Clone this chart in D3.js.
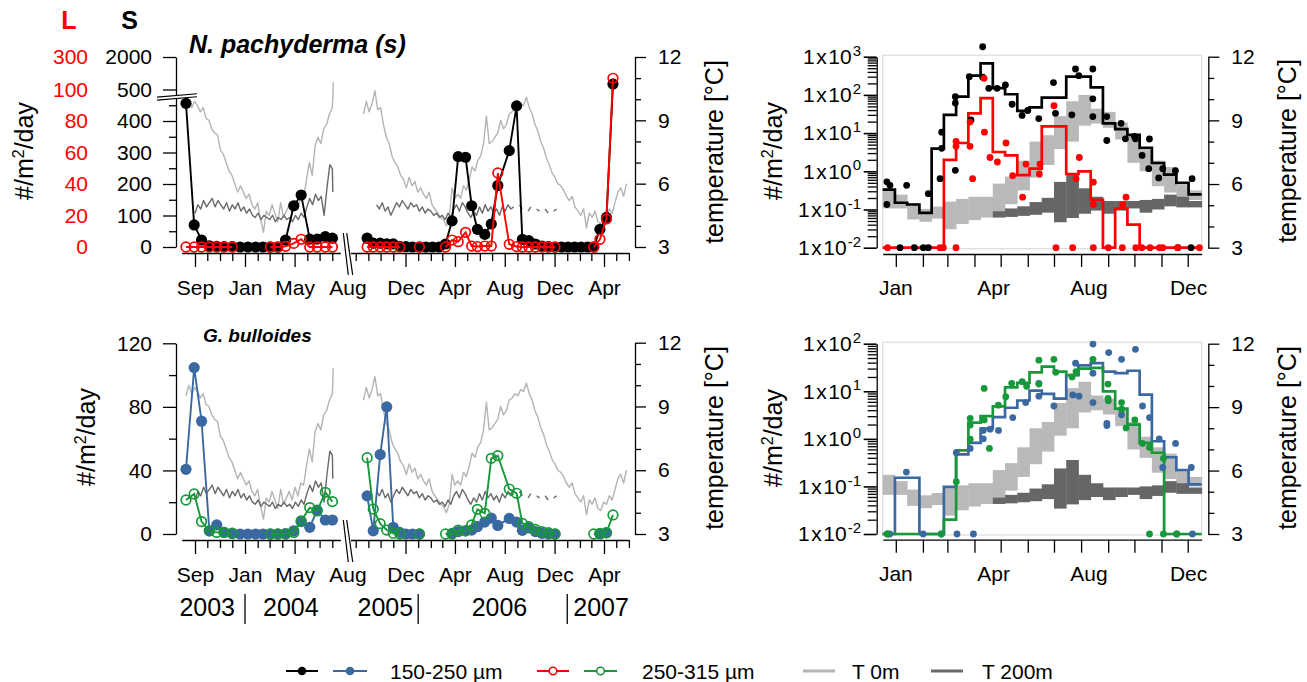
<!DOCTYPE html>
<html>
<head>
<meta charset="utf-8">
<script src="https://cdn.jsdelivr.net/npm/d3@7/dist/d3.min.js"></script>
<style>
html,body{margin:0;padding:0;background:#fff;}
svg text{font-family:"Liberation Sans",Arial,Helvetica,sans-serif;}
</style>
</head>
<body>
<svg id="chart" width="1307" height="682"></svg>
<script>
// ================= DATA =================
// sediment-trap sampling dates (two deployments, separated by an axis break)
const sampleDatesA = ["2003-08-10","2003-08-30","2003-09-17","2003-10-06","2003-10-24","2003-11-11","2003-12-01","2003-12-20","2004-01-08","2004-01-27","2004-02-14","2004-03-03","2004-03-21","2004-04-09","2004-04-29","2004-05-17","2004-06-07","2004-06-25","2004-07-15","2004-08-03"];
const sampleDatesB = ["2005-08-29","2005-09-13","2005-09-30","2005-10-16","2005-11-01","2005-11-17","2005-12-02","2005-12-18","2006-01-04","2006-01-20","2006-02-05","2006-02-21","2006-03-09","2006-03-25","2006-04-09","2006-04-27","2006-05-12","2006-05-26","2006-06-13","2006-06-29","2006-07-15","2006-08-12","2006-08-30","2006-09-13","2006-09-29","2006-10-15","2006-10-31","2006-11-16","2006-12-02","2006-12-18","2007-01-03","2007-01-19","2007-02-04","2007-02-20","2007-03-07","2007-03-22","2007-04-07","2007-04-23"];

// N. pachyderma (s): S = 150-250 µm, L = 250-315 µm  (#/m2/day)
const pachySmallA = [456,70,22,4,2,1,1,0,0,0,0,0,0,22,131,165,25,25,33,28];
const pachyLargeA = [0,0,0,0,0,0,0,null,null,null,null,0,0,0.4,2.3,4.9,0,0,0,0];
const pachySmallB = [28,12,12,10,10,2,1,0,0,0,0,0,9.5,83,287,285,131,56,40,73,195,306,448,24,20,9.5,3,1,0,0,0,0,0,0,0,56,94,754];
const pachyLargeB = [0,0,0,0,0,0,null,null,0,null,null,null,0,4.4,3.4,9.3,0.6,0.3,0.6,0.6,47,1.7,0.3,0,0,0,0,0,0,null,null,null,null,null,0,4.9,17.8,169];

// G. bulloides
const bullSmallA = [40.7,104.7,71,2,5.7,1,0.5,0,0,0,0,0,0,0.3,2,7.8,4.2,15,8.8,8.8];
const bullLargeA = [21.4,25.2,7.8,2,1,1,0.3,null,null,null,null,0,0,0,1,8.2,16.6,14.5,26.2,20.4];
const bullSmallB = [24,2,50,80,4.2,1,0,0,0,null,null,null,null,0.4,1.5,2,2.5,4.6,7.5,10,5.4,9.8,7.5,2.3,3.8,1.5,0.4,0,0,null,null,null,null,null,null,0,0.8,null];
const bullLargeB = [48,15.7,6.5,2.5,0.5,0,null,null,0,null,null,null,0,0,2.5,2,5.7,15.5,13,47.6,49.3,28.3,25.6,6.7,4.6,2.9,1.5,0.8,0,null,null,null,null,null,0,0.4,0.8,12];

// temperature records (weekly readings, °C)
const t0StartA = "2003-08-10";
const t0SeriesA = [9.5,10.0,9.6,9.9,9.7,9.4,9.6,9.1,9.0,8.6,8.4,8.3,7.6,7.4,7.0,6.6,6.4,6.0,5.6,5.9,5.6,5.3,5.5,5.0,4.8,5.1,4.3,3.7,4.7,4.5,5.0,4.6,4.2,5.1,4.4,4.7,5.0,4.6,5.2,4.8,5.4,5.3,6.2,7.0,6.4,7.8,8.2,7.9,8.6,8.8,9.3,9.6,10.0,10.8];
const t200StartA = "2003-09-01";
const t200SeriesA = [4.6,5.0,4.8,5.2,4.9,5.1,5.3,4.9,5.2,5.0,4.8,5.1,4.7,5.0,4.8,5.1,4.7,4.9,4.6,4.8,4.5,4.4,4.6,4.3,4.5,4.4,4.3,4.5,4.2,4.4,4.3,4.5,4.3,4.4,4.2,4.5,4.3,4.6,4.4,4.9,5.3,5.0,5.5,5.2,5.4,4.5,5.8,6.9,6.7,5.6];
const t0StartB = "2005-08-20";
const t0SeriesB = [9.3,9.9,9.4,9.8,10.4,9.5,9.6,8.8,8.2,7.9,7.3,7.0,6.8,6.4,6.2,5.8,6.3,5.9,6.1,5.6,5.8,5.5,5.3,5.6,5.0,4.8,4.6,4.4,4.3,4.0,4.4,5.8,5.3,5.5,5.3,5.9,5.7,6.2,6.8,6.6,7.1,7.3,7.9,9.2,7.9,8.0,8.2,8.4,9.0,8.6,8.8,9.3,9.4,9.6,9.5,9.8,9.7,10.1,9.6,9.3,8.8,8.5,8.0,7.7,7.2,6.9,6.5,6.3,6.0,5.9,5.7,5.4,5.2,5.4,4.9,4.7,4.5,4.8,3.9,4.6,4.4,4.7,4.2,4.1,4.5,4.4,4.8,4.6,5.1,5.6,5.8,5.4,6.0];
const t200StartB = "2005-09-21";
const t200SeriesB = [5.0,4.8,5.1,4.7,4.9,4.5,4.8,5.1,4.9,5.2,5.0,4.8,5.1,4.9,5.0,4.7,4.9,4.6,4.8,4.7,4.5,4.6,4.4,4.5,4.3,4.6,4.4,4.8,5.0,4.7,5.1,4.9,4.6,4.4,4.7,4.5,4.9,4.6,5.0,4.7,4.9,4.6,4.8,4.5,4.9,4.7,5.0,4.8,4.9,null,5.0,4.8,null,4.7,4.9,null,4.8,4.7,null,4.8,4.6,null,4.7,4.8,null,4.6];

// climatology in 14-day bins (day of year)
const binLength = 14;
const pachyStepSmall = [0.33,0.15,0.135,0.082,3.9,30,90,320,670,150,104,38,47,85,85,300,300,158,18,12.7,9,4.1,1.65,0.82,0.5,0.25,0.25];
const pachyStepLarge = [0,0,0,0,0,2.0,5.5,33,82,3.2,2.6,0.79,1.17,15,15,0.85,1.0,0.18,0,0.106,0.04,0,0,0,0,0,0];
const bullStepSmall = [0,0.152,0.152,0,0,0.098,0.47,0.82,1.65,2.85,4.5,6.4,10.3,8.8,7.0,21.7,35,39,26,24,27,8.5,0.89,0.41,0.22,0.11,0.11];
const bullStepLarge = [0,0,0,0,0,0.02,0.57,2.2,3.0,4.8,12.1,15,25,33,26,22,30,31,10,4.3,2.0,0.82,0.51,0,0,0,0];
const bandT0Low   = [4.85,4.85,4.33,4.22,4.37,3.87,4.12,4.3,4.42,4.7,5.05,5.7,6.3,6.9,7.65,8.0,8.75,8.85,8.65,8.1,7.0,6.6,5.9,5.6,5.35,5.25,5.25];
const bandT0High  = [5.8,5.5,5.1,4.83,4.94,5.17,5.3,5.4,5.4,6.02,6.35,7.1,8.0,8.3,9.2,9.9,10.2,9.55,9.4,8.9,8.3,7.6,7.1,6.8,5.95,5.7,5.7];
const bandT200Low = [null,null,null,null,null,null,null,null,null,4.42,4.45,4.5,4.55,4.65,4.2,4.4,4.6,4.75,4.6,4.75,4.85,4.65,4.8,4.95,4.9,4.9,4.9];
const bandT200High= [null,null,null,null,null,null,null,null,null,4.72,4.85,4.95,5.15,5.35,6.1,6.5,5.8,5.4,5.2,5.2,5.2,5.25,5.3,5.5,5.4,5.2,5.2];

// individual samples [day of year, #/m2/day]
const pachyDotsSmall = [[4.8,0.53],[8.3,0.43],[4.8,0.135],[27.4,0.43],[19.8,0],[36.2,0],[46.5,0],[52.2,0],[52.2,0.26],[65.6,0.64],[67.5,10.6],[67.5,4],[83.1,90],[83.1,61],[83.1,1.06],[99.1,300],[101,22],[114.4,1820],[114.4,290],[121.4,149],[130.9,149],[140.4,182],[148.1,57],[159.5,29],[166,39],[178.6,24],[195.4,210],[197.7,33],[216.4,30],[220.6,476],[224.4,319],[240.4,476],[240.4,79],[240.4,27],[256.4,27],[256.4,6.4],[272.8,18],[277.7,7.1],[288,8.2],[289.2,7.1],[296.8,2.6],[305.2,7],[304.4,1.17],[315.8,0.67],[320.4,1.17],[334.9,1.04],[337.6,0],[352.8,0],[354,0.64]];
const pachyDotsLarge = [[5.6,0],[65.6,0],[69.4,0],[83.9,0],[83.9,6.1],[83.9,4.5],[99.9,4.5],[99.9,19.4],[102.9,0.64],[116,272],[116.4,10.6],[122.8,2.3],[131.2,1.75],[141.1,5.5],[148.7,0.77],[160.1,0.21],[163.9,1.55],[179.2,0.85],[179.9,1.55],[196,52],[198.3,0],[217.4,0],[221.2,0.64],[225,2.3],[241,0.52],[241,0],[241,0.135],[258.2,0],[274.2,0],[274.6,0.135],[278.4,0.21],[289.6,0],[296.5,0],[305.9,0],[316.6,0],[320.4,0],[337.6,0],[362.4,0]];
const bullDotsSmall = [[5.3,0],[8,0],[27.1,0.2],[46.3,0],[67,0],[85,0],[103.8,0],[84.2,0.51],[100.1,0.63],[115,1.5],[115.1,1.0],[122.9,1.6],[132.5,1.5],[148.8,2.8],[163.6,5.8],[178.7,7.9],[178.7,14.7],[195.9,4.9],[217.5,8.4],[220.7,39],[224.6,7.9],[240.6,98],[240.6,24],[240.6,5.8],[258.6,65],[256.5,2.1],[256.5,1.9],[273.3,47],[273.3,3.2],[289.2,76],[297.3,4.9],[305.3,2.8],[316.4,1.0],[320.4,0.25],[335.1,0.8],[353.1,0.25],[336.4,0],[354.4,0]];
const bullDotsLarge = [[5.3,0],[67,0],[84.2,0.126],[100.1,2.7],[100.1,1.95],[100.1,0.98],[116.1,11.5],[116.1,2.5],[122.1,0.63],[132.3,5.1],[140.8,7.7],[147.6,14.7],[159.6,15.9],[164.7,12.7],[178.7,14.2],[178.7,45],[195.9,47],[198,25],[216.7,20],[221.2,26],[240.6,47],[257.8,14.2],[257.8,7.1],[258.2,6.3],[273.3,5.8],[273.3,4.2],[278.5,1.7],[288.4,2.5],[297.3,0.8],[305.3,0.66],[305.3,0],[321.2,0.39],[321.2,0],[336.4,0]];

// tick values / labels
const axisSTicks = [0,100,200,300,400,500,2000];
const axisSMinor = [50,150,250,350,450];
const axisLTicks = [0,20,40,60,80,100,300];
const axisBTicks = [0,40,80,120];
const axisBMinor = [20,60,100];
const tempTicks = [3,6,9,12];
const tempMinor = [4,5,7,8,10,11];
const majorMonths = ["2003-09-01","2004-01-01","2004-05-01","2005-12-01","2006-04-01","2006-08-01","2006-12-01","2007-04-01"];
const yearLabels = ["2003","2004","2005","2006","2007"];
const climMonthTicks = [15,46,74,105,135,166,196,227,258,288,319,349];
const climMonthLabels = ["Jan","Apr","Aug","Dec"];
const climMonthLabelDays = [15,127,236,350];
const logDecadesTop = [-2,-1,0,1,2,3];
const logDecadesBottom = [-2,-1,0,1,2];

// ================= DRAWING =================
const FONT = '"Liberation Sans", Arial, Helvetica, sans-serif';
const svg = d3.select("#chart");
const parseDate = d3.utcParse("%Y-%m-%d");
const C = {black:"#000000", red:"#ff0000", blue:"#3a68a0", green:"#17983a", t0:"#b4b4b4", t200:"#6a6a6a", band0:"#b9b9b9", band200:"#666666"};

const xL = d3.scaleUtc()
  .domain(["2003-09-01","2004-08-01","2005-08-01","2007-04-01"].map(parseDate))
  .range([195, 332.3, 355.7, 604]);
const xR = d3.scaleLinear().domain([0,365]).range([882.7,1201.7]);

function styleAxis(a, fs){
  a.attr("font-size", fs||21).attr("font-family", FONT);
  a.selectAll("line").attr("stroke","#000").attr("stroke-width",1.3);
  a.select(".domain").attr("stroke","#000").attr("stroke-width",1.3);
  a.selectAll("text").attr("fill","#000");
}
function leftAxis(x, scale, major, minor, fmt){
  const a = svg.append("g").attr("transform",`translate(${x},0)`)
    .call(d3.axisLeft(scale).tickValues(major).tickSize(13).tickSizeOuter(0).tickPadding(11).tickFormat(fmt));
  styleAxis(a);
  if (minor && minor.length){
    const b = svg.append("g").attr("transform",`translate(${x},0)`)
      .call(d3.axisLeft(scale).tickValues(minor).tickSize(7).tickSizeOuter(0).tickFormat(""));
    styleAxis(b); b.select(".domain").remove();
  }
  return a;
}
function tempAxis(x, scale){
  const a = svg.append("g").attr("transform",`translate(${x},0)`)
    .call(d3.axisRight(scale).tickValues(tempTicks).tickSize(11).tickSizeOuter(0).tickPadding(12).tickFormat(d3.format("d")));
  styleAxis(a);
  const b = svg.append("g").attr("transform",`translate(${x},0)`)
    .call(d3.axisRight(scale).tickValues(tempMinor).tickSize(6).tickSizeOuter(0).tickFormat(""));
  styleAxis(b); b.select(".domain").remove();
}
function vLabel(x, y, parts){
  const t = svg.append("text").attr("transform",`translate(${x},${y}) rotate(-90)`)
    .attr("text-anchor","middle").attr("dy","0.35em").attr("font-size",25).attr("fill","#000");
  parts.forEach(p => {
    const s = t.append("tspan").text(p.t);
    if (p.sup) s.attr("font-size",16).attr("dy","-0.55em");
    if (p.down) s.attr("dy","0.35em");
  });
}
const fluxLabel = [{t:"#/m"},{t:"2",sup:true},{t:"/day",down:true}];
const tempLabel = [{t:"temperature [°C]"}];

// ---------- time axis (left panels) ----------
function timeAxis(axisY, withYears){
  const majors = majorMonths.map(parseDate);
  const isMajor = d => majors.some(m => +m === +d);
  const monthsA = d3.utcMonth.range(parseDate("2003-09-01"), parseDate("2004-08-02"));
  const monthsB = d3.utcMonth.range(parseDate("2005-08-01"), parseDate("2007-06-02"));
  const all = monthsA.concat(monthsB);
  const g1 = svg.append("g").attr("transform",`translate(0,${axisY})`)
    .call(d3.axisBottom(xL).tickValues(all.filter(d=>!isMajor(d))).tickSize(8).tickSizeOuter(0).tickFormat(""));
  styleAxis(g1); g1.select(".domain").remove();
  const g2 = svg.append("g").attr("transform",`translate(0,${axisY})`)
    .call(d3.axisBottom(xL).tickValues(majors).tickSize(14).tickSizeOuter(0).tickPadding(13).tickFormat(d3.utcFormat("%b")));
  styleAxis(g2); g2.select(".domain").remove();
  const brk0 = xL(parseDate("2004-08-01")), brk1 = xL(parseDate("2005-08-01"));
  const mw = xL(parseDate("2006-05-01")) - xL(parseDate("2006-04-01"));
  svg.append("line").attr("x1", xL(parseDate("2003-08-01"))).attr("x2", brk0 + 0.7*mw)
    .attr("y1",axisY+0.5).attr("y2",axisY+0.5).attr("stroke","#000").attr("stroke-width",1.3);
  svg.append("line").attr("x1", brk1 - 0.38*mw).attr("x2", xL(parseDate("2007-06-01")))
    .attr("y1",axisY+0.5).attr("y2",axisY+0.5).attr("stroke","#000").attr("stroke-width",1.3);
  const c = (brk0 + brk1)/2;
  [[-0.7,4.3],[2.7,8.7]].forEach(([a,b]) => {
    svg.append("line").attr("x1",c+a).attr("y1",axisY-20).attr("x2",c+b).attr("y2",axisY+22)
      .attr("stroke","#000").attr("stroke-width",1.2);
  });
  svg.append("text").attr("x", c+4).attr("y", axisY+42).attr("text-anchor","middle")
    .attr("font-size",21).text("Aug");
  if (withYears){
    const yb = axisY + 75.5;
    const j04 = xL(parseDate("2004-01-01")), j06 = xL(parseDate("2006-01-01")), j07 = xL(parseDate("2007-01-01"));
    [j04, j06, j07].forEach(x => svg.append("line").attr("x1",x).attr("x2",x)
      .attr("y1",axisY+54).attr("y2",axisY+84).attr("stroke","#000").attr("stroke-width",1.3));
    const yl = [
      {t:yearLabels[0], x:j04-10, a:"end"},
      {t:yearLabels[1], x:j04+18, a:"start"},
      {t:yearLabels[2], x:j06-5, a:"end"},
      {t:yearLabels[3], x:xL(parseDate("2006-07-19")), a:"middle"},
      {t:yearLabels[4], x:j07+6, a:"start"}];
    yl.forEach(o => svg.append("text").attr("x",o.x).attr("y",yb).attr("text-anchor",o.a)
      .attr("font-size",25).text(o.t));
  }
}

function weekly(start, vals){
  const s = parseDate(start);
  return vals.map((v,i) => ({d: d3.utcDay.offset(s, 7*i), v}));
}
function tempLines(yT){
  [[t0StartA,t0SeriesA,C.t0],[t0StartB,t0SeriesB,C.t0],[t200StartA,t200SeriesA,C.t200],[t200StartB,t200SeriesB,C.t200]]
  .forEach(([s,vals,col]) => {
    svg.append("path").datum(weekly(s,vals))
      .attr("d", d3.line().defined(p=>p.v!=null).x(p=>xL(p.d)).y(p=>yT(p.v)))
      .attr("fill","none").attr("stroke",col).attr("stroke-width",1.4).attr("stroke-linejoin","round");
  });
}
function series(dates, vals, y, col, open){
  const data = dates.map((d,i)=>({d:parseDate(d), v:vals[i]}));
  svg.append("path").datum(data)
    .attr("d", d3.line().defined(p=>p.v!=null).x(p=>xL(p.d)).y(p=>y(p.v)))
    .attr("fill","none").attr("stroke",col).attr("stroke-width",1.9);
  svg.append("g").selectAll("circle").data(data.filter(p=>p.v!=null)).join("circle")
    .attr("cx",p=>xL(p.d)).attr("cy",p=>y(p.v))
    .attr("r", open?4.8:5.6)
    .attr("fill", open?"none":col).attr("stroke", open?col:"none").attr("stroke-width",1.7);
}

// ===== Top-left panel: N. pachyderma (s) =====
const ySmall = d3.scaleLinear().domain([0,500,2000]).range([247,89.5,57]);
const yLarge = d3.scaleLinear().domain([0,100,300]).range([247,89.5,57]);
const yTtl = d3.scaleLinear().domain([3,12]).range([247,57]);
tempLines(yTtl);
series(sampleDatesA, pachySmallA, ySmall, C.black, false);
series(sampleDatesB, pachySmallB, ySmall, C.black, false);
series(sampleDatesA, pachyLargeA, d=>yLarge(d), C.red, true);
series(sampleDatesB, pachyLargeB, d=>yLarge(d), C.red, true);
leftAxis(176, ySmall, axisSTicks, axisSMinor, d3.format("d"));
svg.append("g").selectAll("text").data(axisLTicks).join("text")
  .attr("x",88).attr("y",d=>yLarge(d)).attr("dy","0.35em").attr("text-anchor","end")
  .attr("font-size",21).attr("fill",C.red).text(d=>d);
(function(){
  const yb = (ySmall(450)+ySmall(500))/2 - 2;
  svg.append("path").attr("d",`M157,${yb+1.7}L197,${yb-1.6}L197,${yb+1.4}L157,${yb+4.7}Z`).attr("fill","#fff");
  svg.append("line").attr("x1",157).attr("y1",yb+1.7).attr("x2",197).attr("y2",yb-1.6).attr("stroke","#000").attr("stroke-width",1.2);
  svg.append("line").attr("x1",157).attr("y1",yb+4.7).attr("x2",197).attr("y2",yb+1.4).attr("stroke","#000").attr("stroke-width",1.2);
})();
tempAxis(635, yTtl);
timeAxis(253, false);
svg.append("text").attr("x",69).attr("y",29).attr("text-anchor","middle").attr("font-size",25)
  .attr("font-weight","bold").attr("fill",C.red).text("L");
svg.append("text").attr("x",129.5).attr("y",29).attr("text-anchor","middle").attr("font-size",25)
  .attr("font-weight","bold").attr("fill","#000").text("S");
svg.append("text").attr("x",189).attr("y",53).attr("font-size",25).attr("font-weight","bold")
  .attr("font-style","italic").text("N. pachyderma (s)");
vLabel(24,151,fluxLabel);
vLabel(714,152,tempLabel);

// ===== Bottom-left panel: G. bulloides =====
const yBull = d3.scaleLinear().domain([0,120]).range([534,343.3]);
const yTbl = d3.scaleLinear().domain([3,12]).range([534,342.7]);
tempLines(yTbl);
series(sampleDatesA, bullSmallA, yBull, C.blue, false);
series(sampleDatesB, bullSmallB, yBull, C.blue, false);
series(sampleDatesA, bullLargeA, yBull, C.green, true);
series(sampleDatesB, bullLargeB, yBull, C.green, true);
leftAxis(176, yBull, axisBTicks, axisBMinor, d3.format("d"));
tempAxis(635, yTbl);
timeAxis(540, true);
svg.append("text").attr("x",203).attr("y",342).attr("font-size",19).attr("font-weight","bold")
  .attr("font-style","italic").text("G. bulloides");
vLabel(86,437,fluxLabel);
vLabel(714,438,tempLabel);

// ===== Right panels: climatology =====
function climPanel(cfg){
  const {yLog, yT, axisY, decades, stepS, stepL, dotsS, dotsL, colS, colL, labelY} = cfg;
  const [yb, yt] = yLog.range();
  svg.append("rect").attr("x",xR(0)).attr("y",yt-1.5).attr("width",xR(365)-xR(0)).attr("height",yb-yt+2.5)
    .attr("fill","none").attr("stroke","#dcdcdc").attr("stroke-width",1.2);
  const bins = d3.range(stepS.length);
  const bandRects = (lo, hi, col) => {
    svg.append("g").selectAll("rect").data(bins.filter(i=>lo[i]!=null)).join("rect")
      .attr("x", i=>xR(i*binLength))
      .attr("width", i=>xR(Math.min(365,(i+1)*binLength)) - xR(i*binLength) + 0.4)
      .attr("y", i=>yT(hi[i])).attr("height", i=>yT(lo[i]) - yT(hi[i]))
      .attr("fill", col);
  };
  bandRects(bandT0Low, bandT0High, C.band0);
  bandRects(bandT200Low, bandT200High, C.band200);
  const fy = v => yLog(Math.max(v, 0.01));
  const stepPts = vals => { const p = vals.map((v,i)=>[i*binLength, v]); p.push([365, vals[vals.length-1]]); return p; };
  const line = d3.line().x(d=>xR(d[0])).y(d=>fy(d[1])).curve(d3.curveStepAfter);
  svg.append("path").datum(stepPts(stepS)).attr("d",line).attr("fill","none").attr("stroke",colS).attr("stroke-width",2.7);
  svg.append("path").datum(stepPts(stepL)).attr("d",line).attr("fill","none").attr("stroke",colL).attr("stroke-width",2.7);
  svg.append("g").selectAll("circle").data(dotsS).join("circle")
    .attr("cx",d=>xR(d[0])).attr("cy",d=>fy(d[1])).attr("r",3.4).attr("fill",colS);
  svg.append("g").selectAll("circle").data(dotsL).join("circle")
    .attr("cx",d=>xR(d[0])).attr("cy",d=>fy(d[1])).attr("r",3.4).attr("fill",colL);
  const minors = [];
  decades.forEach(e => { if (e < decades[decades.length-1]) for (let k=2;k<=9;k++) minors.push(k*Math.pow(10,e)); });
  const a = svg.append("g").attr("transform","translate(876.7,0)")
    .call(d3.axisLeft(yLog).tickValues(decades.map(e=>Math.pow(10,e))).tickSize(13).tickSizeOuter(0).tickFormat(""));
  styleAxis(a); a.selectAll(".tick line").attr("stroke-width",1.6);
  const b = svg.append("g").attr("transform","translate(876.7,0)")
    .call(d3.axisLeft(yLog).tickValues(minors).tickSize(9).tickSizeOuter(0).tickFormat(""));
  styleAxis(b); b.select(".domain").remove();
  decades.forEach(e => {
    const t = svg.append("text").attr("x",861).attr("y",yLog(Math.pow(10,e))).attr("dy","0.35em")
      .attr("text-anchor","end").attr("font-size",21);
    t.append("tspan").text("1");
    t.append("tspan").attr("dx",1.5).text("x");
    t.append("tspan").attr("dx",1.5).text("10");
    t.append("tspan").attr("font-size",15).attr("dx",1).attr("dy","-0.55em").text(String(e));
  });
  tempAxis(1208.3, yT);
  const xa = svg.append("g").attr("transform",`translate(0,${axisY})`)
    .call(d3.axisBottom(xR).tickValues(climMonthTicks).tickSize(13).tickSizeOuter(0).tickFormat(""));
  styleAxis(xa);
  svg.append("g").selectAll("text").data(climMonthLabels).join("text")
    .attr("x",(d,i)=>xR(climMonthLabelDays[i])).attr("y",axisY+41).attr("text-anchor","middle")
    .attr("font-size",21).text(d=>d);
  vLabel(773, labelY, fluxLabel);
  vLabel(1287, labelY, tempLabel);
}
climPanel({
  yLog: d3.scaleLog().domain([0.01,1000]).range([247.7,56.7]),
  yT: d3.scaleLinear().domain([3,12]).range([247.7,56.7]),
  axisY: 254, decades: logDecadesTop,
  stepS: pachyStepSmall, stepL: pachyStepLarge, dotsS: pachyDotsSmall, dotsL: pachyDotsLarge,
  colS: C.black, colL: C.red, labelY: 151
});
climPanel({
  yLog: d3.scaleLog().domain([0.01,100]).range([534,343.7]),
  yT: d3.scaleLinear().domain([3,12]).range([534,343.7]),
  axisY: 539.7, decades: logDecadesBottom,
  stepS: bullStepSmall, stepL: bullStepLarge, dotsS: bullDotsSmall, dotsL: bullDotsLarge,
  colS: C.blue, colL: C.green, labelY: 438
});

// ===== Legend =====
(function(){
  const ly = 671;
  const g = svg.append("g");
  const item = (x1, x2, col, kind) => {
    if (kind === "open"){
      const cx = (x1+x2)/2;
      g.append("line").attr("x1",x1).attr("x2",cx-4).attr("y1",ly).attr("y2",ly).attr("stroke",col).attr("stroke-width",2);
      g.append("line").attr("x1",cx+4).attr("x2",x2).attr("y1",ly).attr("y2",ly).attr("stroke",col).attr("stroke-width",2);
      g.append("circle").attr("cx",cx).attr("cy",ly).attr("r",3.8).attr("fill","none").attr("stroke",col).attr("stroke-width",1.6);
    } else if (kind === "dot"){
      g.append("line").attr("x1",x1).attr("x2",x2).attr("y1",ly).attr("y2",ly).attr("stroke",col).attr("stroke-width",2);
      g.append("circle").attr("cx",(x1+x2)/2).attr("cy",ly).attr("r",4.3).attr("fill",col);
    } else {
      g.append("line").attr("x1",x1).attr("x2",x2).attr("y1",ly).attr("y2",ly).attr("stroke",col).attr("stroke-width",3);
    }
  };
  item(286,318,C.black,"dot");
  item(333,367,C.blue,"dot");
  g.append("text").attr("x",390).attr("y",ly+7.5).attr("font-size",21).text("150-250 µm");
  item(537,569,C.red,"open");
  item(584,617,C.green,"open");
  g.append("text").attr("x",642).attr("y",ly+7.5).attr("font-size",21).text("250-315 µm");
  item(803,835,C.t0,"line");
  g.append("text").attr("x",852).attr("y",ly+7.5).attr("font-size",21).text("T 0m");
  item(931,963,C.t200,"line");
  g.append("text").attr("x",982).attr("y",ly+7.5).attr("font-size",21).text("T 200m");
})();
</script>
</body>
</html>
